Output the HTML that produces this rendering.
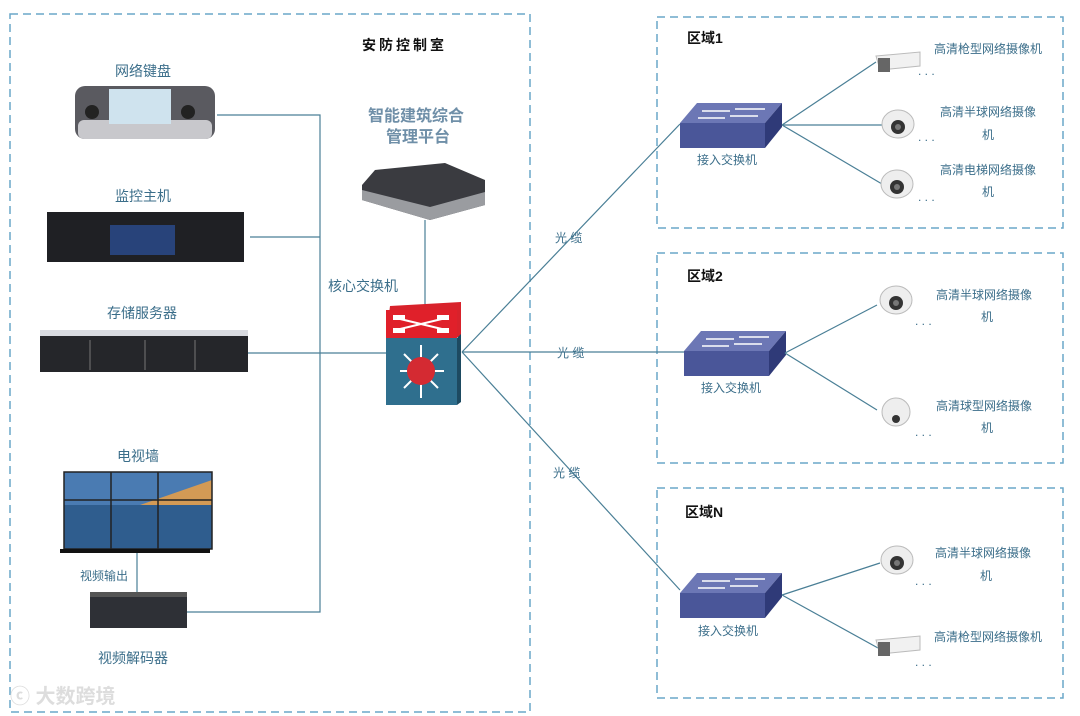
<!DOCTYPE html>
<html><head><meta charset="utf-8"><style>
body{margin:0;background:#fff;}
svg{display:block;font-family:"Liberation Sans","Noto Sans CJK SC",sans-serif;}
.lb{fill:#3b6e8a;font-size:14px;}
.sm{fill:#3b6e8a;font-size:12px;}
.bk{fill:#111;font-weight:bold;font-size:14px;}
.ln{stroke:#4a7f96;stroke-width:1.2;fill:none;}
.bx{stroke:#6aa7c9;stroke-width:1.5;stroke-dasharray:8,5;fill:none;}
</style></head><body>
<svg width="1080" height="716" viewBox="0 0 1080 716">
<defs>
<g id="sw">
<polygon points="17,0 102,0 85,20 0,20" fill="#6c77b5"/>
<polygon points="0,20 85,20 85,45 0,45" fill="#4a5699"/>
<polygon points="85,20 102,0 102,24 85,45" fill="#2f3a78"/>
<line x1="22" y1="8" x2="50" y2="8" stroke="#fff" stroke-width="1.5"/>
<line x1="55" y1="6" x2="85" y2="6" stroke="#fff" stroke-width="1.5"/>
<line x1="18" y1="15" x2="45" y2="15" stroke="#fff" stroke-width="1.5"/>
<line x1="50" y1="13" x2="78" y2="13" stroke="#fff" stroke-width="1.5"/>
</g>
<g id="dome">
<ellipse cx="0" cy="0" rx="16" ry="14" fill="#eee" stroke="#bbb"/>
<circle cx="0" cy="3" r="7" fill="#333"/>
<circle cx="0" cy="3" r="3" fill="#777"/>
</g>
<g id="bullet">
<polygon points="0,4 44,0 44,14 4,18" fill="#f1f1f1" stroke="#bbb"/>
<rect x="2" y="6" width="12" height="14" fill="#666"/>
</g>
</defs>

<rect class="bx" x="10" y="14" width="520" height="698"/>
<rect class="bx" x="657" y="17" width="406" height="211"/>
<rect class="bx" x="657" y="253" width="406" height="210"/>
<rect class="bx" x="657" y="488" width="406" height="210"/>

<text x="362" y="50" class="bk" style="letter-spacing:3px">安防控制室</text>

<!-- bus -->
<path class="ln" d="M217 115 H320 V612 H187 M250 237 H320 M248 353 H386 M137 553 V592"/>

<!-- keyboard -->
<text x="115" y="76" class="lb">网络键盘</text>
<rect x="75" y="86" width="140" height="53" rx="10" fill="#5a5a60"/>
<rect x="78" y="120" width="134" height="19" rx="6" fill="#c8c8cc"/>
<rect x="109" y="89" width="62" height="35" fill="#cfe3ee"/>
<circle cx="92" cy="112" r="7" fill="#222"/><circle cx="188" cy="112" r="7" fill="#222"/>
<!-- host -->
<text x="115" y="201" class="lb">监控主机</text>
<rect x="47" y="212" width="197" height="50" fill="#1f2024"/>
<rect x="110" y="225" width="65" height="30" fill="#28437a"/>
<!-- storage -->
<text x="107" y="318" class="lb">存储服务器</text>
<rect x="40" y="330" width="208" height="42" fill="#25262a"/>
<rect x="40" y="330" width="208" height="6" fill="#d9dbe0"/>
<g stroke="#777" stroke-width="1"><line x1="90" y1="340" x2="90" y2="370"/><line x1="145" y1="340" x2="145" y2="370"/><line x1="195" y1="340" x2="195" y2="370"/></g>
<!-- tv wall -->
<text x="117" y="461" class="lb">电视墙</text>
<rect x="64" y="472" width="148" height="77" fill="#4a7bb2"/>
<rect x="64" y="505" width="148" height="44" fill="#2f5d8e"/>
<polygon points="140,505 212,480 212,505" fill="#d39a55"/>
<g stroke="#222" stroke-width="1.5" fill="none"><rect x="64" y="472" width="148" height="77"/><line x1="111" y1="472" x2="111" y2="549"/><line x1="158" y1="472" x2="158" y2="549"/><line x1="64" y1="500" x2="212" y2="500"/></g>
<rect x="60" y="549" width="150" height="4" fill="#111"/>
<text x="80" y="580" class="sm">视频输出</text>
<!-- decoder -->
<rect x="90" y="592" width="97" height="36" fill="#2e3036"/>
<rect x="90" y="592" width="97" height="5" fill="#555"/>
<text x="98" y="663" class="lb">视频解码器</text>
<text x="10" y="703" style="fill:#ddd;font-size:20px;font-weight:bold">ⓒ 大数跨境</text>

<!-- platform -->
<text x="368" y="121" style="fill:#6f8fa8;font-size:16px;font-weight:bold">智能建筑综合</text>
<text x="386" y="142" style="fill:#6f8fa8;font-size:16px;font-weight:bold">管理平台</text>
<polygon points="375,170 445,163 485,180 485,205 430,220 362,200 362,185" fill="#3a3b40"/>
<polygon points="362,190 430,207 485,192 485,205 430,220 362,200" fill="#9a9ca0"/>
<line class="ln" x1="425" y1="220" x2="425" y2="306"/>
<text x="328" y="291" class="lb">核心交换机</text>

<!-- core switch -->
<polygon points="390,306 461,302 461,337 386,337" fill="#d8222b"/>
<rect x="386" y="310" width="71" height="28" fill="#e0202a"/>
<g stroke="#fff" stroke-width="2"><line x1="396" y1="318" x2="446" y2="330"/><line x1="396" y1="330" x2="446" y2="318"/></g>
<rect x="393" y="315" width="12" height="5" fill="#fff"/><rect x="437" y="315" width="12" height="5" fill="#fff"/>
<rect x="393" y="328" width="12" height="5" fill="#fff"/><rect x="437" y="328" width="12" height="5" fill="#fff"/>
<rect x="386" y="338" width="71" height="67" fill="#2f6f8e"/>
<polygon points="457,338 461,334 461,402 457,405" fill="#1d4a61"/>
<g stroke="#fff" stroke-width="2"><line x1="400" y1="371" x2="444" y2="371"/><line x1="421" y1="345" x2="421" y2="398"/><line x1="404" y1="354" x2="438" y2="388"/><line x1="438" y1="354" x2="404" y2="388"/></g>
<circle cx="421" cy="371" r="14" fill="#d42a32"/>

<!-- fiber -->
<path class="ln" d="M462 352 L680 124 M462 352 H684 M462 352 L680 590"/>
<text x="555" y="242" class="sm">光 缆</text>
<text x="557" y="357" class="sm">光 缆</text>
<text x="553" y="477" class="sm">光 缆</text>

<!-- zone 1 -->
<text x="687" y="43" class="bk">区域1</text>
<use href="#sw" x="680" y="103"/>
<text x="697" y="164" class="sm">接入交换机</text>
<path class="ln" d="M782 125 L876 62 M782 125 L882 125 M782 125 L882 184"/>
<use href="#bullet" x="876" y="52"/>
<use href="#dome" x="898" y="124"/>
<use href="#dome" x="897" y="184"/>
<text x="918" y="75" class="sm">. . .</text><text x="918" y="141" class="sm">. . .</text><text x="918" y="201" class="sm">. . .</text>
<text x="934" y="53" class="sm">高清枪型网络摄像机</text>
<text x="940" y="116" class="sm">高清半球网络摄像</text><text x="982" y="139" class="sm">机</text>
<text x="940" y="174" class="sm">高清电梯网络摄像</text><text x="982" y="196" class="sm">机</text>

<!-- zone 2 -->
<text x="687" y="281" class="bk">区域2</text>
<use href="#sw" x="684" y="331"/>
<text x="701" y="392" class="sm">接入交换机</text>
<path class="ln" d="M785 353 L877 305 M785 353 L877 410"/>
<use href="#dome" x="896" y="300"/>
<circle cx="896" cy="412" r="14" fill="#eee" stroke="#bbb"/><circle cx="896" cy="419" r="4" fill="#333"/>
<text x="915" y="325" class="sm">. . .</text><text x="915" y="436" class="sm">. . .</text>
<text x="936" y="299" class="sm">高清半球网络摄像</text><text x="981" y="321" class="sm">机</text>
<text x="936" y="410" class="sm">高清球型网络摄像</text><text x="981" y="432" class="sm">机</text>

<!-- zone N -->
<text x="685" y="517" class="bk">区域N</text>
<use href="#sw" x="680" y="573"/>
<text x="698" y="635" class="sm">接入交换机</text>
<path class="ln" d="M782 595 L880 563 M782 595 L878 648"/>
<use href="#dome" x="897" y="560"/>
<use href="#bullet" x="876" y="636"/>
<text x="915" y="585" class="sm">. . .</text><text x="915" y="666" class="sm">. . .</text>
<text x="935" y="557" class="sm">高清半球网络摄像</text><text x="980" y="580" class="sm">机</text>
<text x="934" y="641" class="sm">高清枪型网络摄像机</text>
</svg>
</body></html>
